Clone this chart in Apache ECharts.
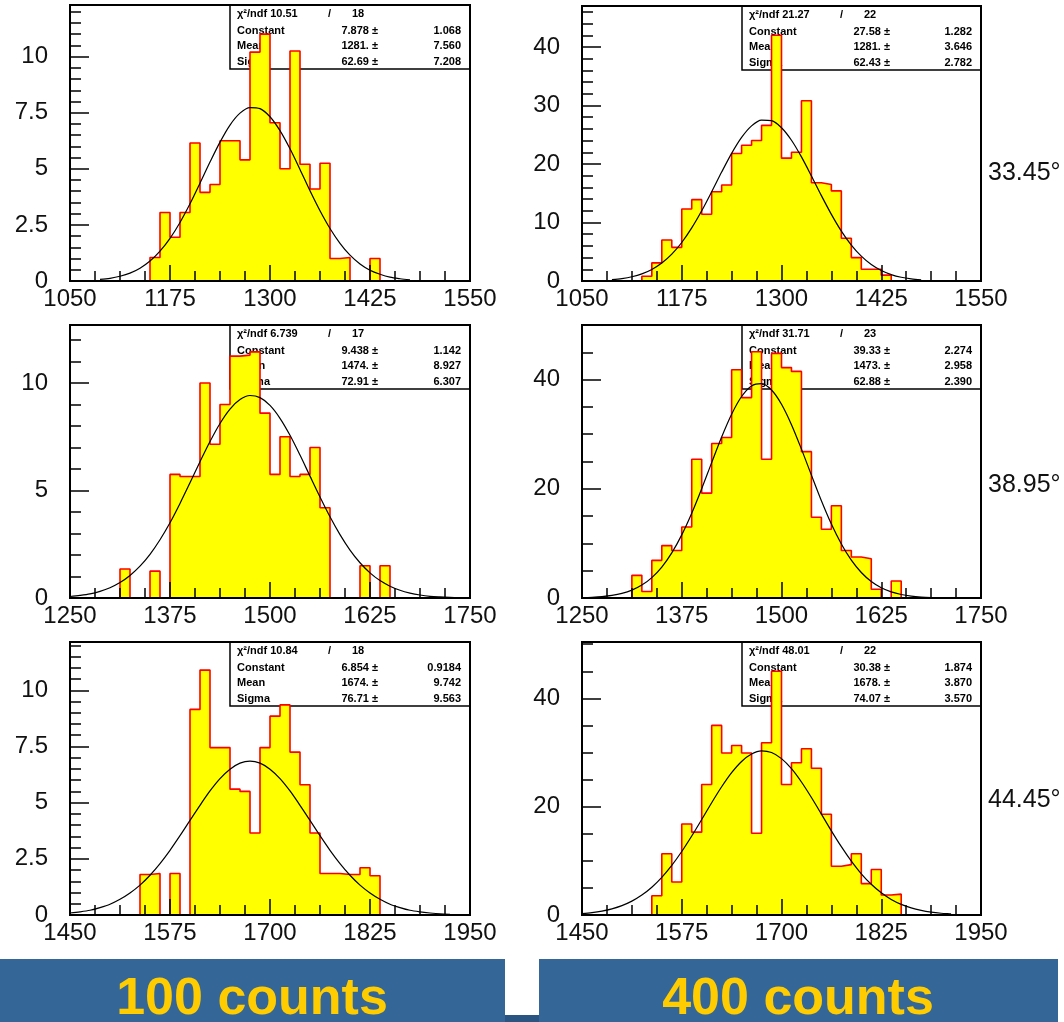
<!DOCTYPE html>
<html>
<head>
<meta charset="utf-8">
<script src="https://cdn.jsdelivr.net/npm/echarts@6/dist/echarts.min.js"></script>
<style>
html,body{margin:0;padding:0;background:#fff;}
#chart{width:1064px;height:1022px;}
</style>
</head>
<body>
<div id="chart"></div>
<script>
// ---------------- data ----------------
const binWidth = 12.5;
const histStart = [1050, 1050, 1250, 1250, 1450, 1450];

const xTickLabels = [
  [1050, 1175, 1300, 1425, 1550],
  [1050, 1175, 1300, 1425, 1550],
  [1250, 1375, 1500, 1625, 1750],
  [1250, 1375, 1500, 1625, 1750],
  [1450, 1575, 1700, 1825, 1950],
  [1450, 1575, 1700, 1825, 1950]
];
const yTickLabels = [
  [0, 2.5, 5, 7.5, 10],
  [0, 10, 20, 30, 40],
  [0, 5, 10],
  [0, 20, 40],
  [0, 2.5, 5, 7.5, 10],
  [0, 20, 40]
];
const yMinorStep = [0.5, 2, 1, 5, 0.5, 5];
const yTop = [12.3, 47, 12.7, 50, 12.15, 50.4];

// histogram bin contents (40 bins of 12.5 each)
const hist1 = [0,0,0,0,0,0,0,0, 1.05,3.05,1.95,3.05,6.15,3.95,4.3,6.25,6.25,5.4,10.2,11.0,7.05,5.0,10.25,5.2,4.1,5.25,1.0,1.05,0,0,1.0, 0,0,0,0,0,0,0,0,0];
const hist2 = [0,0,0,0,0,0, 0.8,3.1,7.0,5.75,12.3,13.9,11.4,15.25,16.4,21.8,23.2,24.0,26.6,42.0,21.0,22.0,30.8,16.8,16.5,15.4,7.3,4.0,2.0,2.0,1.0, 0,0,0,0,0,0,0,0,0];
const hist3 = [0,0,0,0,0, 1.35,0,0,1.25,0,5.75,5.65,5.65,10.0,7.15,9.0,11.25,11.3,11.45,8.6,5.75,7.5,5.65,5.75,7.0,4.2,0,0,0,1.5,0,1.5, 0,0,0,0,0,0,0,0];
const hist4 = [0,0,0,0,0, 4.15,1.2,6.9,9.6,8.7,13.0,25.4,19.2,28.3,29.4,41.8,36.7,45.1,25.4,44.8,42.2,41.5,26.8,14.8,12.6,16.9,8.7,7.5,7.2,1.6,0,3.1, 0,0,0,0,0,0,0,0];
const hist5 = [0,0,0,0,0,0,0, 1.8,1.85,0,1.85,0,9.15,10.9,7.45,7.45,5.6,5.5,3.65,7.45,8.85,9.35,7.25,5.8,3.65,1.85,1.85,1.8,1.8,2.1,1.75, 0,0,0,0,0,0,0,0,0];
const hist6 = [0,0,0,0,0,0,0, 3.55,11.3,6.1,16.8,15.3,24.1,35.0,29.9,31.3,29.9,15.1,31.8,45.0,24.1,28.1,30.7,27.1,18.6,9.0,9.3,11.3,5.8,8.4,3.7,3.85, 0,0,0,0,0,0,0,0];

// fitted curve at steps of 12.5
const fitStep = 12.5;
const fitStart = [1087.5, 1087.5, 1250, 1250, 1450, 1450];
const fit1 = [0.07,0.12,0.21,0.35,0.57,0.89,1.33,1.90,2.61,3.44,4.36,5.30,6.19,6.95,7.48,7.73,7.68,7.32,6.70,5.89,4.97,4.02,3.13,2.34,1.68,1.15,0.76,0.48,0.30,0.17,0.10,0.05];
const fit2 = [0.22,0.41,0.72,1.21,1.97,3.06,4.58,6.58,9.07,12.0,15.26,18.62,21.82,24.55,26.52,27.51,27.40,26.20,24.06,21.21,17.95,14.59,11.39,8.53,6.14,4.24,2.81,1.79,1.10,0.64,0.36,0.20];
const fit3 = [0.07,0.12,0.19,0.31,0.48,0.72,1.05,1.48,2.03,2.71,3.50,4.40,5.36,6.34,7.28,8.12,8.79,9.23,9.42,9.32,8.96,8.36,7.57,6.65,5.67,4.70,3.78,2.95,2.23,1.64,1.17,0.81,0.55,0.36,0.23,0.14,0.08,0.05,0.03,0.015];
const fit4 = [0.06,0.13,0.25,0.47,0.84,1.44,2.36,3.74,5.67,8.26,11.56,15.53,20.02,24.80,29.49,33.66,36.90,38.84,39.25,38.09,35.49,31.75,27.27,22.50,17.81,13.54,9.89,6.93,4.67,3.01,1.87,1.12,0.64,0.35,0.18,0.09,0.05];
const fit5 = [0.09,0.14,0.21,0.33,0.48,0.70,0.98,1.33,1.77,2.29,2.88,3.53,4.21,4.88,5.52,6.07,6.49,6.76,6.85,6.76,6.49,6.07,5.52,4.88,4.21,3.53,2.88,2.29,1.77,1.33,0.98,0.70,0.48,0.33,0.21,0.14,0.09,0.05,0.03];
const fit6 = [0.27,0.45,0.73,1.14,1.73,2.56,3.68,5.13,6.95,9.15,11.72,14.58,17.63,20.73,23.67,26.28,28.35,29.72,30.30,30.0,28.87,27.01,24.55,21.69,18.63,15.54,12.61,9.94,7.61,5.67,4.10,2.88,1.97,1.31,0.85,0.53,0.32,0.19];

// fit statistics boxes
const statChi2 = ['10.51', '21.27', '6.739', '31.71', '10.84', '48.01'];
const statNdf = ['18', '22', '17', '23', '18', '22'];
const statConstant = [['7.878', '1.068'], ['27.58', '1.282'], ['9.438', '1.142'], ['39.33', '2.274'], ['6.854', '0.9184'], ['30.38', '1.874']];
const statMean = [['1281.', '7.560'], ['1281.', '3.646'], ['1474.', '8.927'], ['1473.', '2.958'], ['1674.', '9.742'], ['1678.', '3.870']];
const statSigma = [['62.69', '7.208'], ['62.43', '2.782'], ['72.91', '6.307'], ['62.88', '2.390'], ['76.71', '9.563'], ['74.07', '3.570']];

const angleLabels = ['33.45°', '38.95°', '44.45°'];
const bannerLabels = ['100 counts', '400 counts'];

// ---------------- layout ----------------
const panels = [
  {left: 70,  top: 5,   width: 400, height: 276},
  {left: 582, top: 6,   width: 399, height: 275},
  {left: 70,  top: 325, width: 400, height: 273},
  {left: 582, top: 325, width: 399, height: 273},
  {left: 70,  top: 642, width: 400, height: 273},
  {left: 582, top: 642, width: 399, height: 273}
];
const hists = [hist1, hist2, hist3, hist4, hist5, hist6];
const fits = [fit1, fit2, fit3, fit4, fit5, fit6];

const tickFont = '"Liberation Sans", Arial, sans-serif';

const grid = [], xAxis = [], yAxis = [], series = [], graphics = [];

function isMult(v, step) {
  const r = v / step;
  return Math.abs(r - Math.round(r)) < 1e-6;
}

panels.forEach((p, k) => {
  grid.push({
    left: p.left, top: p.top, width: p.width, height: p.height,
    containLabel: false, outerBoundsMode: 'none',
    show: true, borderColor: '#000', borderWidth: 2, backgroundColor: 'transparent', z: 10
  });
  const xt = xTickLabels[k];
  xAxis.push({
    type: 'value', gridIndex: k, z: 11,
    min: xt[0], max: xt[xt.length - 1], interval: xt[1] - xt[0],
    axisLine: {show: false},
    axisTick: {show: true, inside: true, length: 16, lineStyle: {color: '#000', width: 1.5}},
    minorTick: {show: true, splitNumber: 4, length: 10, lineStyle: {color: '#000', width: 1.5}},
    splitLine: {show: false}, minorSplitLine: {show: false},
    axisLabel: {show: true, margin: 6, fontSize: 24, color: '#111', fontFamily: tickFont,
      showMinLabel: true, showMaxLabel: true, hideOverlap: false,
      formatter: v => String(v)}
  });
  const yt = yTickLabels[k];
  const majorStep = yt[1] - yt[0];
  // minor tick axis
  yAxis.push({
    type: 'value', gridIndex: k, position: 'left', z: 11,
    min: 0, max: yTop[k], interval: yMinorStep[k],
    axisLine: {show: false},
    axisTick: {show: true, inside: true, length: 11, lineStyle: {color: '#000', width: 1.5}},
    axisLabel: {show: false}, splitLine: {show: false}
  });
  // major tick axis with labels
  yAxis.push({
    type: 'value', gridIndex: k, position: 'left', z: 11,
    min: 0, max: yTop[k], interval: majorStep,
    axisLine: {show: false},
    axisTick: {show: true, inside: true, length: 19, lineStyle: {color: '#000', width: 1.5}},
    splitLine: {show: false},
    axisLabel: {show: true, margin: 22, fontSize: 24, color: '#111', fontFamily: tickFont, hideOverlap: false,
      formatter: v => (isMult(v, majorStep) && v <= yt[yt.length - 1] + 1e-9) ? String(v) : ''}
  });

  // histogram: one stepped outline + fill per run of non-empty bins
  const vals = hists[k];
  const start = histStart[k];
  let i = 0;
  while (i < vals.length) {
    if (vals[i] > 0) {
      const pts = [[start + i * binWidth, 0]];
      while (i < vals.length && vals[i] > 0) {
        pts.push([start + i * binWidth, vals[i]]);
        i++;
      }
      pts.push([start + i * binWidth, vals[i - 1]]);
      pts.push([start + i * binWidth, 0]);
      series.push({
        type: 'line', xAxisIndex: k, yAxisIndex: 2 * k + 1, data: pts,
        step: 'end', symbol: 'none', silent: true, animation: false, z: 2,
        lineStyle: {color: '#ff0000', width: 1.6},
        areaStyle: {color: '#ffff00', opacity: 1, origin: 'start'},
        emphasis: {disabled: true}
      });
    } else {
      i++;
    }
  }

  // fitted gaussian curve
  const f = fits[k];
  series.push({
    type: 'line', xAxisIndex: k, yAxisIndex: 2 * k + 1,
    data: f.map((v, j) => [fitStart[k] + j * fitStep, v]),
    smooth: 0.3, symbol: 'none', silent: true, animation: false, z: 4,
    lineStyle: {color: '#000', width: 1.2},
    emphasis: {disabled: true}
  });

  // statistics box
  const bx = p.left + 160, by = p.top, bw = p.width - 160, bh = 64;
  graphics.push({type: 'rect', z: 1, silent: true,
    shape: {x: bx, y: by, width: bw, height: bh},
    style: {fill: '#fff', stroke: '#000', lineWidth: 1.5}});
  const statFont = 'bold 11px "Liberation Sans", Arial, sans-serif';
  const rowsY = [by + 9, by + 25.5, by + 41, by + 56.5];
  const txt = (s, x, y, align) => graphics.push({type: 'text', z: 1, silent: true, x: x, y: y,
    style: {text: s, font: statFont, fill: '#000', align: align, textAlign: align,
      verticalAlign: 'middle', textVerticalAlign: 'middle'}});
  txt('χ²/ndf ' + statChi2[k], bx + 7, rowsY[0], 'left');
  txt('/', bx + 98, rowsY[0], 'left');
  txt(statNdf[k], bx + 122, rowsY[0], 'left');
  const rows = [['Constant', statConstant[k]], ['Mean', statMean[k]], ['Sigma', statSigma[k]]];
  rows.forEach((r, j) => {
    txt(r[0], bx + 7, rowsY[j + 1], 'left');
    txt(r[1][0] + ' ±', bx + 148, rowsY[j + 1], 'right');
    txt(r[1][1], bx + bw - 9, rowsY[j + 1], 'right');
  });
});

// angle labels on the right
const angleY = [173, 485, 800];
angleLabels.forEach((s, j) => {
  graphics.push({type: 'text', silent: true, x: 988, y: angleY[j],
    style: {text: s, font: '25px "Liberation Sans", Arial, sans-serif', fill: '#111',
      align: 'left', textAlign: 'left', verticalAlign: 'middle', textVerticalAlign: 'middle'}});
});

// bottom banners
graphics.push({type: 'rect', silent: true, shape: {x: 0, y: 959, width: 505, height: 63}, style: {fill: '#346698'}});
graphics.push({type: 'rect', silent: true, shape: {x: 539, y: 959, width: 519, height: 63}, style: {fill: '#346698'}});
graphics.push({type: 'rect', silent: true, shape: {x: 505, y: 1015, width: 34, height: 7}, style: {fill: '#2a5583'}});
const bannerX = [252, 798];
bannerLabels.forEach((s, j) => {
  graphics.push({type: 'text', silent: true, z: 2, x: bannerX[j], y: 1000,
    style: {text: s, font: 'bold 52px "Liberation Sans", Arial, sans-serif', fill: '#ffcc00',
      align: 'center', textAlign: 'center', verticalAlign: 'middle', textVerticalAlign: 'middle'}});
});

const chart = echarts.init(document.getElementById('chart'), null, {renderer: 'canvas'});
chart.setOption({
  animation: false,
  backgroundColor: '#fff',
  grid: grid,
  xAxis: xAxis,
  yAxis: yAxis,
  series: series,
  graphic: {elements: graphics}
});
</script>
</body>
</html>
